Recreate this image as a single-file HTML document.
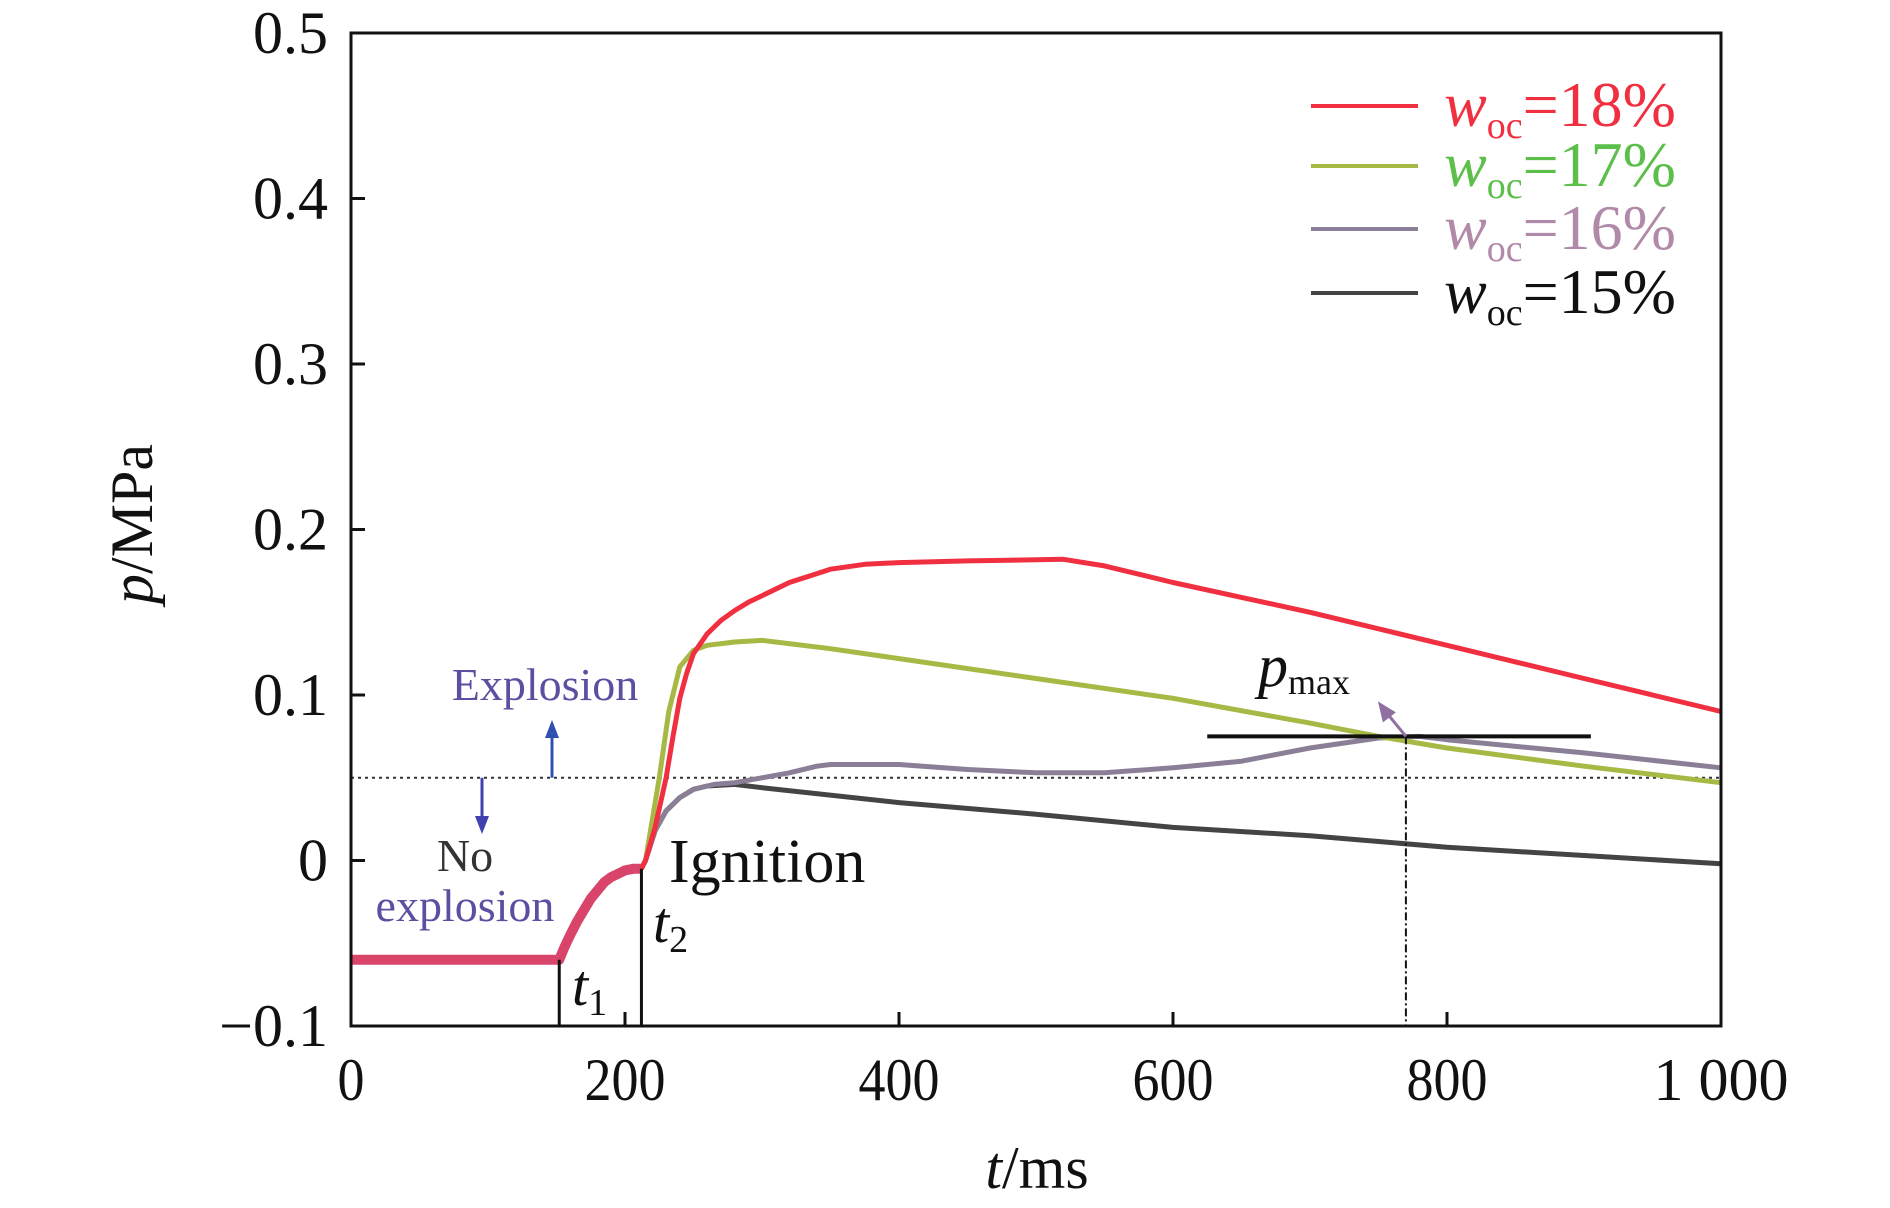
<!DOCTYPE html>
<html><head><meta charset="utf-8"><style>
html,body{margin:0;padding:0;background:#fff}
svg{display:block;font-family:"Liberation Serif",serif}
</style></head><body>
<svg id="chart" width="1890" height="1208" viewBox="0 0 1890 1208">
<g id="series"></g>
<g id="axes"></g>
</svg>
<script>
const xTicks=[0,200,400,600,800,1000];
const xTickLabels=["0","200","400","600","800","1 000"];
const yTicks=[-0.1,0,0.1,0.2,0.3,0.4,0.5];
const yTickLabels=["\u22120.1","0","0.1","0.2","0.3","0.4","0.5"];
const preT=[0,152,156,160,165,170,175,180,185,190,195,200,206,212];
const preP=[-0.06,-0.06,-0.052,-0.045,-0.037,-0.03,-0.023,-0.018,-0.013,-0.01,-0.008,-0.006,-0.005,-0.005];
const t18=[215,222,230,235,240,245,250,260,270,280,290,300,320,350,375,400,450,520,550,600,650,700,750,800,850,900,950,1000];
const p18=[0,0.02,0.05,0.075,0.098,0.113,0.125,0.137,0.145,0.151,0.156,0.16,0.168,0.176,0.179,0.18,0.181,0.182,0.178,0.168,0.159,0.15,0.14,0.13,0.12,0.11,0.1,0.09];
const t17=[215,220,225,232,240,250,260,280,300,350,400,500,600,700,750,800,900,1000];
const p17=[0,0.025,0.05,0.09,0.117,0.127,0.13,0.132,0.133,0.128,0.122,0.11,0.098,0.083,0.075,0.068,0.057,0.047];
const t16=[215,222,230,240,250,265,280,300,320,340,350,400,450,500,550,600,650,700,750,780,800,900,1000];
const p16=[0,0.018,0.03,0.038,0.043,0.046,0.047,0.05,0.053,0.057,0.058,0.058,0.055,0.053,0.053,0.056,0.06,0.068,0.074,0.075,0.073,0.065,0.056];
const t15=[215,222,230,240,250,260,280,300,400,500,600,700,800,900,1000];
const p15=[0,0.018,0.03,0.038,0.043,0.045,0.046,0.044,0.035,0.028,0.02,0.015,0.008,0.003,-0.002];
const threshold=0.05, t1=152, t2=212, pmaxT=770, pmaxP=0.075;

const X0=351,X1=1721,YB=1026,YT=33;
const xs=v=>X0+(v/1000)*(X1-X0);
const ys=v=>YB-((v+0.1)/0.6)*(YB-YT);
const NS="http://www.w3.org/2000/svg";
const S=document.getElementById('series');
function mk(tag,at,parent){const e=document.createElementNS(NS,tag);for(const k in at)e.setAttribute(k,at[k]);parent.appendChild(e);return e;}
function path(ts,ps){return ts.map((t,i)=>(i?'L':'M')+xs(t).toFixed(1)+','+ys(ps[i]).toFixed(1)).join(' ');}

let e=mk('line',{x1:X0,x2:X1,y1:ys(threshold),y2:ys(threshold),stroke:'#333','stroke-width':2,'stroke-dasharray':'3,4'},S);



const series=[[t15,p15,'#444','series-15'],[t16,p16,'#8a7f96','series-16'],[t17,p17,'#a8b845','series-17'],[t18,p18,'#f03040','series-18']];
e=mk('path',{d:path(preT,preP),fill:'none',stroke:'#d8446a','stroke-width':10,'stroke-linejoin':'round'},S);


const last=[preT[preT.length-1]],lastP=[preP[preP.length-1]];
series.forEach(s=>{
  e=mk('path',{d:path(last.concat(s[0]),lastP.concat(s[1])),fill:'none',stroke:s[2],'stroke-width':5,'stroke-linejoin':'round'},S);
  
  
});

[[t1,preP[1],'t1-line'],[t2,preP[preP.length-1],'t2-line']].forEach(d=>{
  e=mk('line',{x1:xs(d[0]),x2:xs(d[0]),y1:YB,y2:ys(d[1]),stroke:'#111','stroke-width':3},S);
  
  
});
e=mk('line',{x1:xs(625),x2:xs(905),y1:ys(pmaxP),y2:ys(pmaxP),stroke:'#111','stroke-width':4},S);


e=mk('line',{x1:xs(pmaxT),x2:xs(pmaxT),y1:ys(pmaxP),y2:YB,stroke:'#111','stroke-width':2,'stroke-dasharray':'8,3,2,3'},S);



(function(){
const svg=document.getElementById('chart');
function mk2(tag,at,parent,txt){const e=document.createElementNS(NS,tag);for(const k in at)e.setAttribute(k,at[k]);if(txt!==undefined)e.textContent=txt;(parent||svg).appendChild(e);return e;}
const A=document.getElementById('axes');
let e=mk2('rect',{x:X0,y:YT,width:X1-X0,height:YB-YT,fill:'none',stroke:'#111','stroke-width':3},A);


xTicks.forEach((v,i)=>{
  mk2('line',{x1:xs(v),x2:xs(v),y1:YB,y2:YB-14,stroke:'#111','stroke-width':3},A);
  e=mk2('text',{x:xs(v),y:1100,'text-anchor':'middle','font-size':60,fill:'#111',textLength:(xTickLabels[i].length*27),lengthAdjust:'spacingAndGlyphs'},A,xTickLabels[i]);
  
  
});
yTicks.forEach((v,i)=>{
  mk2('line',{x1:X0,x2:X0+14,y1:ys(v),y2:ys(v),stroke:'#111','stroke-width':3},A);
  e=mk2('text',{x:328,y:ys(v)+20,'text-anchor':'end','font-size':60,fill:'#111'},A,yTickLabels[i]);
  
  
});
e=mk2('text',{x:1037,y:1188,'text-anchor':'middle','font-size':60,fill:'#111'},A);
e.innerHTML='<tspan font-style="italic">t</tspan>/ms';


e=mk2('text',{x:0,y:0,'text-anchor':'middle','font-size':60,fill:'#111',transform:'translate(152,524) rotate(-90)'},A);
e.innerHTML='<tspan font-style="italic">p</tspan>/MPa';


const leg=[['#f03040','#f03040','18'],['#a8b845','#5cbf4a','17'],['#8a7f96','#b08aa8','16'],['#444','#111','15']];
const ly=[106,166,229,293];
leg.forEach((l,i)=>{
  const g=mk2('g',{},A);
  
  
  mk2('line',{x1:1311,x2:1418,y1:ly[i],y2:ly[i],stroke:l[0],'stroke-width':4},g);
  const t=mk2('text',{x:1444,y:ly[i]+20,'font-size':64,fill:l[1]},g);
  t.innerHTML='<tspan font-style="italic">w</tspan><tspan font-size="38" dy="12">oc</tspan><tspan dy="-12">='+l[2]+'%</tspan>';
});
const ann=[['Explosion',545,700,46,'#5a4fa0','explosion-label','middle'],['No',465,871,46,'#333','no-label','middle'],['explosion',465,921,46,'#5a4fa0','no-explosion-label','middle'],['Ignition',669,882,62,'#111','ignition-label','start']];
ann.forEach(a=>{e=mk2('text',{x:a[1],y:a[2],'font-size':a[3],fill:a[4],'text-anchor':a[6]},A,a[0]);

});
e=mk2('text',{x:653,y:942,'font-size':58,fill:'#111'},A);e.innerHTML='<tspan font-style="italic">t</tspan><tspan font-size="38" dy="10">2</tspan>';


e=mk2('text',{x:572,y:1005,'font-size':58,fill:'#111'},A);e.innerHTML='<tspan font-style="italic">t</tspan><tspan font-size="38" dy="10">1</tspan>';


e=mk2('text',{x:1258,y:686,'font-size':60,fill:'#111'},A);e.innerHTML='<tspan font-style="italic">p</tspan><tspan font-size="36" dy="8">max</tspan>';


function arrow(x,y1,y2,color,name){const g=mk2('g',{},A);


const d=y2<y1?1:-1;
mk2('line',{x1:x,x2:x,y1:y1,y2:y2+d*14,stroke:color,'stroke-width':3},g);
mk2('polygon',{points:`${x-7},${y2+d*18} ${x+7},${y2+d*18} ${x},${y2}`,fill:color},g);}
arrow(552,ys(threshold),720,'#3050b0','explosion-arrow');
arrow(482,ys(threshold),834,'#4040b0','no-explosion-arrow');
const px=xs(pmaxT),py=ys(pmaxP);
mk2('line',{x1:px,y1:py,x2:px-18,y2:py-22,stroke:'#9070a0','stroke-width':3},A);
e=mk2('polygon',{points:`${px-28},${py-35} ${px-10},${py-24} ${px-23},${py-14}`,fill:'#9070a0'},A);


})();
</script>
</body></html>
